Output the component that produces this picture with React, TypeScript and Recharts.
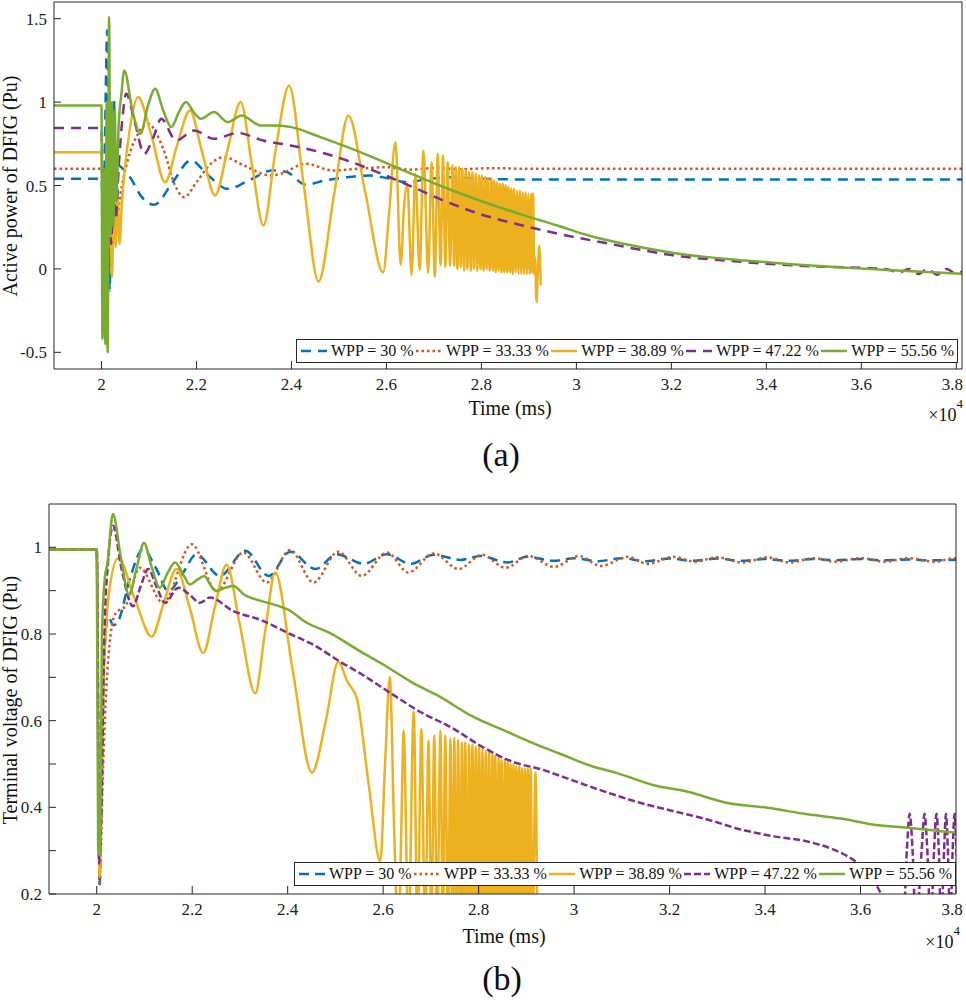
import React from "react";
import { LineChart, Line, XAxis, YAxis } from "recharts";

type Pt = [number, number];

const SERIES_NAMES = ["WPP = 30 %", "WPP = 33.33 %", "WPP = 38.89 %", "WPP = 47.22 %", "WPP = 55.56 %"];
const COLORS = ["#0072BD", "#D95319", "#EDB120", "#7E2F8E", "#77AC30"];

const xTicks = [2, 2.2, 2.4, 2.6, 2.8, 3, 3.2, 3.4, 3.6, 3.8];
const powerTicks = [-0.5, 0, 0.5, 1, 1.5];
const voltageTicks = [0.2, 0.3, 0.4, 0.5, 0.6, 0.7, 0.8, 0.9, 1.0];
const voltageTickLabels = ["0.2", "", "0.4", "", "0.6", "", "0.8", "", "1"];

// ---- (a) active power, time in units of 1e4 ms ----
const power30: Pt[] = [
  [1.9, 0.54], [2.0, 0.54], [2.004, 0.3], [2.008, 0.9], [2.012, 1.43], [2.017, -0.13], [2.021, 0.6],
  [2.026, 1.02], [2.031, 0.35], [2.036, 0.62], [2.045, 0.6], [2.06, 0.55], [2.085, 0.43], [2.111, 0.385],
  [2.15, 0.52], [2.188, 0.65], [2.225, 0.56], [2.266, 0.48], [2.31, 0.53], [2.36, 0.59], [2.39, 0.58],
  [2.43, 0.505], [2.47, 0.53], [2.517, 0.55], [2.565, 0.56], [2.6, 0.545], [2.643, 0.52], [2.69, 0.54],
  [2.74, 0.55], [2.8, 0.54], [2.9, 0.536], [3.82, 0.536],
];

const power3333: Pt[] = [
  [1.9, 0.6], [2.0, 0.6], [2.004, 0.3], [2.009, 0.18], [2.014, 0.35], [2.019, 0.2], [2.024, 0.3],
  [2.03, 0.25], [2.04, 0.45], [2.055, 0.65], [2.075, 0.8], [2.098, 0.87], [2.13, 0.72], [2.155, 0.5],
  [2.174, 0.43], [2.2, 0.52], [2.23, 0.63], [2.258, 0.67], [2.3, 0.62], [2.356, 0.56], [2.377, 0.57],
  [2.43, 0.63], [2.488, 0.59], [2.54, 0.6], [2.6, 0.61], [2.65, 0.595], [2.7, 0.605], [2.76, 0.598],
  [2.82, 0.604], [2.9, 0.6], [3.82, 0.6],
];

const power3889: Pt[] = [
  [1.9, 0.7], [2.0, 0.7], [2.004, 0.3], [2.008, 0.55], [2.013, 0.1], [2.018, 0.45], [2.022, -0.05],
  [2.026, 0.4], [2.03, 0.13], [2.034, 0.45], [2.038, 0.15], [2.043, 0.4], [2.05, 0.62], [2.062, 0.88],
  [2.077, 1.03], [2.105, 0.8], [2.134, 0.52], [2.16, 0.75], [2.186, 0.95], [2.212, 0.7], [2.239, 0.44],
  [2.266, 0.72], [2.293, 1.0], [2.317, 0.62], [2.341, 0.26], [2.366, 0.7], [2.395, 1.1], [2.426, 0.5],
  [2.457, -0.075], [2.49, 0.45], [2.52, 0.92], [2.556, 0.45], [2.593, -0.02], [2.606, 0.35], [2.619, 0.76],
  [2.63, 0.024], [2.637, 0.37], [2.644, 0.51], [2.653, -0.036], [2.661, 0.57], [2.67, -0.006], [2.678, 0.71],
  [2.688, -0.025], [2.695, 0.64], [2.702, -0.046], [2.708, 0.69], [2.714, 0.024], [2.719, 0.68],
  [2.724, 0.014], [2.729, 0.64], [2.734, 0.02], [2.739, 0.62], [2.7425, 0.02], [2.746, 0.61], [2.7495, 0.0],
  [2.753, 0.61], [2.7565, 0.01], [2.76, 0.6], [2.7635, -0.01], [2.767, 0.59], [2.7705, 0.0], [2.774, 0.58],
  [2.7775, -0.01], [2.781, 0.58], [2.7845, 0.0], [2.788, 0.57], [2.7915, -0.01], [2.795, 0.56], [2.798, 0.0],
  [2.801, 0.56], [2.8045, -0.01], [2.808, 0.55], [2.811, 0.0], [2.814, 0.54], [2.8175, -0.01], [2.821, 0.54],
  [2.824, -0.01], [2.827, 0.53], [2.83, -0.02], [2.833, 0.52], [2.836, -0.01], [2.839, 0.51], [2.842, -0.02],
  [2.845, 0.51], [2.848, -0.02], [2.851, 0.5], [2.854, -0.02], [2.857, 0.49], [2.86, -0.02], [2.863, 0.48],
  [2.866, -0.03], [2.869, 0.48], [2.872, -0.02], [2.875, 0.47], [2.878, -0.03], [2.881, 0.47], [2.884, -0.03],
  [2.887, 0.46], [2.89, -0.03], [2.893, 0.46], [2.896, -0.03], [2.899, 0.45], [2.902, -0.03], [2.905, 0.45],
  [2.907, -0.02], [2.909, 0.45], [2.911, -0.03], [2.913, 0.07], [2.916, -0.2], [2.919, 0.0], [2.922, 0.14],
  [2.925, -0.1],
];

const power4722: Pt[] = [
  [1.9, 0.845], [2.0, 0.845], [2.003, 0.3], [2.008, 0.6], [2.012, 0.2], [2.016, 0.5], [2.02, 0.15],
  [2.025, 0.45], [2.03, 0.3], [2.036, 0.6], [2.044, 0.9], [2.052, 1.05], [2.07, 0.88], [2.09, 0.69],
  [2.108, 0.78], [2.126, 0.9], [2.157, 0.77], [2.195, 0.83], [2.237, 0.78], [2.287, 0.815], [2.34, 0.77],
  [2.398, 0.74], [2.46, 0.7], [2.517, 0.65], [2.59, 0.57], [2.656, 0.49], [2.72, 0.41], [2.796, 0.33],
  [2.88, 0.265], [2.963, 0.21], [3.062, 0.155], [3.2, 0.083], [3.34, 0.044], [3.48, 0.018], [3.6, 0.006],
  [3.65, 0.0], [3.68, -0.02], [3.7, 0.0], [3.72, -0.03], [3.74, 0.0], [3.76, -0.035], [3.78, 0.0],
  [3.8, -0.03], [3.82, 0.0],
];

const power5556: Pt[] = [
  [1.9, 0.98], [2.0, 0.98], [2.002, -0.42], [2.005, 0.6], [2.008, -0.45], [2.011, 1.0], [2.013, -0.5],
  [2.016, 1.51], [2.019, 0.2], [2.022, 1.0], [2.025, 0.25], [2.028, 0.95], [2.031, 0.4], [2.036, 0.85],
  [2.042, 1.05], [2.048, 1.19], [2.065, 0.95], [2.082, 0.81], [2.098, 0.98], [2.113, 1.08], [2.13, 0.95],
  [2.147, 0.85], [2.163, 0.94], [2.178, 1.0], [2.194, 0.94], [2.209, 0.9], [2.237, 0.94], [2.266, 0.88],
  [2.295, 0.92], [2.335, 0.86], [2.37, 0.86], [2.4, 0.85], [2.461, 0.79], [2.545, 0.7], [2.628, 0.6],
  [2.712, 0.5], [2.796, 0.41], [2.88, 0.33], [2.96, 0.26], [3.026, 0.2], [3.131, 0.133], [3.236, 0.083],
  [3.34, 0.054], [3.445, 0.03], [3.55, 0.01], [3.654, -0.006], [3.82, -0.03],
];

// ---- (b) terminal voltage ----
const volt30: Pt[] = [
  [1.9, 0.995], [2.0, 0.995], [2.006, 0.22], [2.011, 0.55], [2.016, 0.76], [2.024, 0.84], [2.035, 0.82],
  [2.045, 0.83], [2.07, 0.93], [2.097, 0.996], [2.125, 0.95], [2.15, 0.899], [2.18, 0.94], [2.209, 0.984],
  [2.258, 0.934], [2.311, 0.992], [2.36, 0.934], [2.405, 0.99], [2.458, 0.95], [2.503, 0.984],
  [2.559, 0.962], [2.608, 0.984], [2.657, 0.962], [2.706, 0.983], [2.762, 0.971], [2.804, 0.98],
  [2.86, 0.965], [2.902, 0.978], [2.958, 0.969], [3.0, 0.975], [3.05, 0.968], [3.1, 0.975], [3.15, 0.968],
  [3.2, 0.974], [3.25, 0.969], [3.3, 0.974], [3.35, 0.969], [3.4, 0.973], [3.45, 0.969], [3.5, 0.973],
  [3.55, 0.97], [3.6, 0.973], [3.65, 0.97], [3.7, 0.972], [3.75, 0.97], [3.81, 0.972],
];

const volt3333: Pt[] = [
  [1.9, 0.995], [2.0, 0.995], [2.006, 0.22], [2.012, 0.45], [2.02, 0.674], [2.038, 0.845], [2.062, 0.868],
  [2.09, 0.953], [2.139, 0.872], [2.199, 1.007], [2.251, 0.899], [2.307, 0.988], [2.356, 0.919],
  [2.405, 0.994], [2.454, 0.919], [2.506, 0.99], [2.555, 0.934], [2.608, 0.988], [2.653, 0.942],
  [2.706, 0.986], [2.758, 0.95], [2.807, 0.983], [2.856, 0.953], [2.905, 0.98], [2.958, 0.955],
  [3.01, 0.98], [3.056, 0.957], [3.112, 0.978], [3.154, 0.962], [3.209, 0.978], [3.252, 0.967],
  [3.3, 0.977], [3.353, 0.965], [3.405, 0.977], [3.451, 0.965], [3.503, 0.975], [3.545, 0.967],
  [3.601, 0.975], [3.65, 0.967], [3.699, 0.975], [3.755, 0.967], [3.797, 0.975], [3.81, 0.975],
];

const volt3889: Pt[] = [
  [1.9, 0.995], [2.0, 0.995], [2.006, 0.24], [2.012, 0.6], [2.025, 0.89], [2.045, 0.975], [2.08, 0.88],
  [2.115, 0.794], [2.14, 0.87], [2.167, 0.95], [2.195, 0.86], [2.223, 0.756], [2.247, 0.86], [2.272, 0.96],
  [2.3, 0.82], [2.332, 0.663], [2.352, 0.8], [2.374, 0.942], [2.41, 0.72], [2.451, 0.48], [2.48, 0.6],
  [2.506, 0.736], [2.525, 0.69], [2.545, 0.651], [2.57, 0.45], [2.594, 0.275], [2.604, 0.5], [2.614, 0.7],
  [2.623, 0.35], [2.632, 0.1], [2.638, 0.35], [2.643, 0.577], [2.653, 0.1], [2.664, 0.621], [2.672, 0.1],
  [2.68, 0.581], [2.688, 0.1], [2.695, 0.554], [2.701, 0.1], [2.707, 0.566], [2.713, 0.1], [2.72, 0.577],
  [2.725, 0.1], [2.73, 0.566], [2.736, 0.1], [2.741, 0.558], [2.745, 0.1], [2.749, 0.56], [2.753, 0.1],
  [2.757, 0.555], [2.761, 0.1], [2.765, 0.55], [2.7685, 0.1], [2.772, 0.55], [2.776, 0.1], [2.78, 0.545],
  [2.7835, 0.1], [2.787, 0.545], [2.7905, 0.1], [2.794, 0.54], [2.7975, 0.1], [2.801, 0.54], [2.8045, 0.1],
  [2.808, 0.535], [2.8115, 0.1], [2.815, 0.53], [2.8185, 0.1], [2.822, 0.53], [2.8255, 0.1], [2.829, 0.525],
  [2.832, 0.1], [2.835, 0.52], [2.8385, 0.1], [2.842, 0.515], [2.845, 0.1], [2.848, 0.51], [2.8515, 0.1],
  [2.855, 0.51], [2.858, 0.1], [2.861, 0.505], [2.864, 0.1], [2.867, 0.5], [2.87, 0.1], [2.873, 0.5],
  [2.876, 0.1], [2.879, 0.495], [2.882, 0.1], [2.885, 0.495], [2.888, 0.1], [2.891, 0.49], [2.894, 0.1],
  [2.897, 0.49], [2.9, 0.1], [2.903, 0.49], [2.906, 0.1], [2.909, 0.49], [2.913, 0.1], [2.919, 0.48],
  [2.923, 0.1],
];

const volt4722: Pt[] = [
  [1.9, 0.995], [2.0, 0.995], [2.005, 0.27], [2.01, 0.4], [2.016, 0.8], [2.024, 0.97], [2.034, 1.05],
  [2.052, 0.95], [2.076, 0.864], [2.092, 0.91], [2.108, 0.95], [2.125, 0.91], [2.143, 0.872], [2.171, 0.907],
  [2.195, 0.89], [2.216, 0.872], [2.237, 0.884], [2.286, 0.853], [2.342, 0.833], [2.405, 0.8], [2.454, 0.775],
  [2.51, 0.736], [2.552, 0.709], [2.622, 0.659], [2.678, 0.62], [2.748, 0.581], [2.804, 0.542], [2.874, 0.504],
  [2.93, 0.488], [3.0, 0.461], [3.07, 0.434], [3.14, 0.41], [3.209, 0.391], [3.279, 0.372], [3.349, 0.349],
  [3.419, 0.333], [3.489, 0.321], [3.545, 0.302], [3.573, 0.287], [3.594, 0.271], [3.615, 0.245],
  [3.636, 0.215], [3.655, 0.17], [3.675, 0.12], [3.69, 0.14], [3.697, 0.3], [3.703, 0.385], [3.709, 0.3],
  [3.716, 0.12], [3.728, 0.3], [3.734, 0.385], [3.74, 0.3], [3.747, 0.12], [3.754, 0.3], [3.759, 0.385],
  [3.764, 0.3], [3.769, 0.12], [3.775, 0.3], [3.779, 0.385], [3.783, 0.3], [3.788, 0.12], [3.793, 0.3],
  [3.797, 0.385], [3.801, 0.3], [3.806, 0.12],
];

const volt5556: Pt[] = [
  [1.9, 0.995], [2.0, 0.995], [2.003, 0.3], [2.007, 0.29], [2.011, 0.8], [2.017, 0.93], [2.022, 0.96],
  [2.034, 1.077], [2.05, 0.98], [2.068, 0.89], [2.083, 0.95], [2.099, 1.01], [2.115, 0.955], [2.132, 0.907],
  [2.148, 0.94], [2.164, 0.965], [2.18, 0.94], [2.195, 0.914], [2.21, 0.925], [2.225, 0.934], [2.24, 0.91],
  [2.251, 0.899], [2.27, 0.907], [2.286, 0.911], [2.31, 0.89], [2.342, 0.877], [2.377, 0.866], [2.401, 0.856],
  [2.44, 0.826], [2.489, 0.802], [2.552, 0.76], [2.601, 0.729], [2.664, 0.686], [2.713, 0.659], [2.79, 0.608],
  [2.846, 0.581], [2.916, 0.547], [2.972, 0.523], [3.035, 0.496], [3.09, 0.479], [3.167, 0.451],
  [3.238, 0.436], [3.321, 0.41], [3.405, 0.399], [3.489, 0.384], [3.559, 0.374], [3.629, 0.36],
  [3.699, 0.353], [3.81, 0.34],
];

const toPts = (a: Pt[]) => a.map(([t, v]) => ({ t, v }));

const FONT = "'Liberation Serif', 'Times New Roman', serif";
const AXIS = "#262626";
const tickStyle = { fontSize: 17, fontFamily: FONT, fill: "#222" };

// x tick: the last label is nudged left so it stays inside the figure
const XTick = (props: any) => {
  const { x, y, payload } = props;
  const shift = payload.value === 3.8 ? -4 : 0;
  return (
    <text x={x + shift} y={y} dy="0.71em" textAnchor="middle" style={tickStyle}>
      {String(payload.value)}
    </text>
  );
};

interface PanelProps {
  top: number;
  height: number;
  margin: { top: number; right: number; left: number; bottom: number };
  xDomain: [number, number];
  yWidth: number;
  xHeight: number;
  yDomain: [number, number];
  yTicks: number[];
  yFormat: (v: number, i: number) => string;
  series: Pt[][];
  dashes: (string | undefined)[];
}

const Panel: React.FC<PanelProps> = (p) => (
  <div style={{ position: "absolute", left: 0, top: p.top }}>
    <LineChart width={966} height={p.height} margin={p.margin}>
      <XAxis
        dataKey="t"
        type="number"
        domain={p.xDomain}
        ticks={xTicks}
        interval={0}
        allowDataOverflow
        height={p.xHeight}
        stroke={AXIS}
        tickSize={-8}
        tickMargin={17}
        tick={<XTick />}
      />
      <XAxis
        xAxisId="top"
        orientation="top"
        dataKey="t"
        type="number"
        domain={p.xDomain}
        ticks={xTicks}
        interval={0}
        height={1}
        stroke={AXIS}
        tickSize={-8}
        tick={false}
      />
      <YAxis
        type="number"
        domain={p.yDomain}
        ticks={p.yTicks}
        interval={0}
        allowDataOverflow
        width={p.yWidth}
        stroke={AXIS}
        tickSize={-7}
        tickMargin={14}
        tick={tickStyle}
        tickFormatter={p.yFormat}
      />
      <YAxis
        yAxisId="right"
        orientation="right"
        type="number"
        domain={p.yDomain}
        ticks={p.yTicks}
        interval={0}
        width={1}
        stroke={AXIS}
        tickSize={-7}
        tick={false}
      />
      {p.series.map((s, i) => (
        <Line
          key={SERIES_NAMES[i]}
          data={toPts(s)}
          dataKey="v"
          type="monotone"
          stroke={COLORS[i]}
          strokeWidth={2.5}
          strokeDasharray={p.dashes[i]}
          dot={false}
          activeDot={false}
          isAnimationActive={false}
        />
      ))}
    </LineChart>
  </div>
);

const LegendBox: React.FC<{ top: number; left: number; width: number; dashes: (string | undefined)[] }> = ({
  top,
  left,
  width,
  dashes,
}) => (
  <div
    style={{
      position: "absolute",
      top,
      left,
      width,
      height: 24,
      boxSizing: "border-box",
      border: `1.5px solid ${AXIS}`,
      background: "#fff",
      display: "flex",
      alignItems: "center",
      justifyContent: "space-between",
      padding: "0 3px",
      fontFamily: FONT,
      fontSize: 16,
      color: "#111",
      whiteSpace: "nowrap",
    }}
  >
    {SERIES_NAMES.map((name, i) => (
      <div key={name} style={{ display: "flex", alignItems: "center" }}>
        <svg width={28} height={10}>
          <line x1={1} y1={5} x2={27} y2={5} stroke={COLORS[i]} strokeWidth={2.5} strokeDasharray={dashes[i]} />
        </svg>
        <span style={{ marginLeft: 3 }}>{name}</span>
      </div>
    ))}
  </div>
);

const Label: React.FC<{ x: number; y: number; size: number; rotate?: boolean; children: React.ReactNode }> = ({
  x,
  y,
  size,
  rotate,
  children,
}) => (
  <div
    style={{
      position: "absolute",
      left: x,
      top: y,
      transform: `translate(-50%, -50%)${rotate ? " rotate(-90deg)" : ""}`,
      fontFamily: FONT,
      fontSize: size,
      color: "#111",
      whiteSpace: "nowrap",
      lineHeight: 1,
    }}
  >
    {children}
  </div>
);

const Exp: React.FC<{ right: number; y: number }> = ({ right, y }) => (
  <div
    style={{
      position: "absolute",
      right: 966 - right,
      top: y,
      fontFamily: FONT,
      fontSize: 18,
      color: "#111",
      lineHeight: 1,
      whiteSpace: "nowrap",
    }}
  >
    ×10<span style={{ fontSize: 13, position: "relative", top: -13 }}>4</span>
  </div>
);

const topDashes = ["10 7", "2.5 3", undefined, "10 7", undefined];
const bottomDashes = ["10 6", "2.5 3", undefined, "7 3", undefined];

export default function App() {
  return (
    <div style={{ position: "absolute", left: 0, top: 0, width: 966, height: 1000, background: "#fff" }}>
      <Panel
        top={0}
        height={400}
        margin={{ top: 1, right: 3, left: 0, bottom: 0 }}
        xDomain={[1.9, 3.812]}
        yWidth={54}
        xHeight={31}
        yDomain={[-0.6, 1.6]}
        yTicks={powerTicks}
        yFormat={(v) => String(v)}
        series={[power30, power3333, power3889, power4722, power5556]}
        dashes={topDashes}
      />
      <LegendBox top={339} left={296} width={662} dashes={topDashes} />
      <Label x={10} y={186} size={20} rotate>
        Active power of DFIG (Pu)
      </Label>
      <Label x={510} y={408} size={20}>
        Time (ms)
      </Label>
      <Exp right={963} y={406} />
      <Label x={501} y={455} size={34}>
        (a)
      </Label>

      <Panel
        top={490}
        height={440}
        margin={{ top: 13, right: 9, left: 0, bottom: 0 }}
        xDomain={[1.9, 3.8]}
        yWidth={49}
        xHeight={36}
        yDomain={[0.2, 1.1]}
        yTicks={voltageTicks}
        yFormat={(_v, i) => voltageTickLabels[i] ?? ""}
        series={[volt30, volt3333, volt3889, volt4722, volt5556]}
        dashes={bottomDashes}
      />
      <LegendBox top={862} left={294} width={662} dashes={bottomDashes} />
      <Label x={10} y={700} size={20} rotate>
        Terminal voltage of DFIG (Pu)
      </Label>
      <Label x={504} y={936} size={20}>
        Time (ms)
      </Label>
      <Exp right={960} y={933} />
      <Label x={502} y={979} size={34}>
        (b)
      </Label>
    </div>
  );
}
